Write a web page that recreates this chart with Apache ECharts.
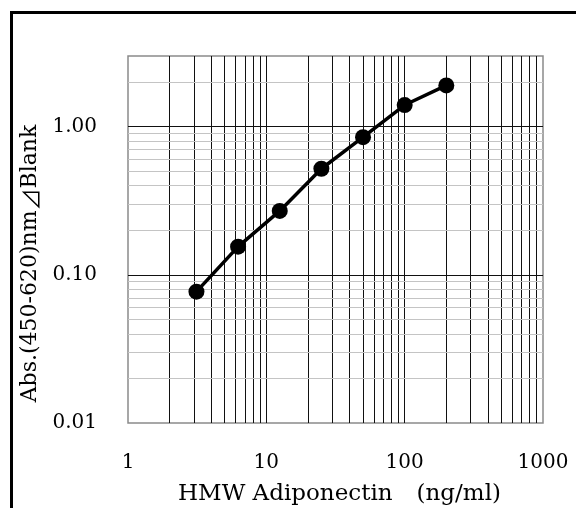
<!DOCTYPE html>
<html><head><meta charset="utf-8">
<script src="https://cdn.jsdelivr.net/npm/echarts@6/dist/echarts.min.js"></script>
<style>html,body{margin:0;padding:0;background:#fff}#c{width:576px;height:508px}</style>
</head><body><div id="c"></div>
<script>
const concentrations = [3.125, 6.25, 12.5, 25, 50, 100, 200];
const absorbance = [0.077, 0.155, 0.27, 0.52, 0.85, 1.4, 1.9];
const xGridLines = [2,3,4,5,6,7,8,9,10,20,30,40,50,60,70,80,90,100,200,300,400,500,600,700,800,900];
const yMinorGridLines = [0.02,0.03,0.04,0.05,0.06,0.07,0.08,0.09,0.2,0.3,0.4,0.5,0.6,0.7,0.8,0.9,2];
const yMajorGridLines = [0.1, 1];
const xName = '{a|HMW Adiponectin}{b|\u3000}{a|(ng/ml)}';
const yName = '{a|Abs.(450-620)nm}{b|\u22BF}{a|Blank}';

const FONT = 'DejaVu Serif';
const CJK = 'Noto Sans CJK JP';
const chart = echarts.init(document.getElementById('c'), null, {renderer: 'canvas'});
const gridData = [];
xGridLines.forEach(v => gridData.push({xAxis: v, lineStyle: {color: '#111', width: 1, type: 'solid'}}));
yMinorGridLines.forEach(v => gridData.push({yAxis: v, lineStyle: {color: '#c4c4c4', width: 1, type: 'solid'}}));
yMajorGridLines.forEach(v => gridData.push({yAxis: v, lineStyle: {color: '#111', width: 1, type: 'solid'}}));

chart.setOption({
  animation: false,
  backgroundColor: '#fff',
  graphic: [{
    type: 'rect', left: 9, top: 10, silent: true,
    shape: {width: 620, height: 560},
    style: {fill: 'none', stroke: '#000', lineWidth: 3}
  }],
  grid: {left: 128, top: 56, right: 33, bottom: 85, show: true, borderColor: '#8a8a8a', borderWidth: 1.5,
    backgroundColor: 'transparent', containLabel: false, outerBoundsMode: 'none'},
  xAxis: {
    type: 'log', logBase: 10, min: 1, max: 1000,
    name: xName, nameLocation: 'middle', nameGap: 59,
    nameTextStyle: {color: '#000', padding: [0, 0, 0, 8], rich: {
      a: {fontFamily: FONT, fontSize: 23, color: '#000'},
      b: {fontFamily: CJK, fontSize: 24, color: '#000'}
    }},
    axisLine: {show: false}, axisTick: {show: false},
    splitLine: {show: false},
    axisLabel: {fontFamily: FONT, fontSize: 20, color: '#000', margin: 30,
      formatter: v => String(Math.round(v))}
  },
  yAxis: {
    type: 'log', logBase: 10, min: 0.01, max: 3,
    name: yName, nameLocation: 'middle', nameGap: 84,
    nameTextStyle: {color: '#000', padding: [0, 48, 0, 0], rich: {
      a: {fontFamily: FONT, fontSize: 22, color: '#000'},
      b: {fontFamily: CJK, fontSize: 22, color: '#000'}
    }},
    axisLine: {show: false}, axisTick: {show: false},
    splitLine: {show: false},
    axisLabel: {fontFamily: FONT, fontSize: 20, color: '#000', margin: 31, showMaxLabel: false,
      formatter: v => Number(v).toFixed(2)}
  },
  series: [
    {
      type: 'line', data: [], z: 1, silent: true,
      markLine: {symbol: 'none', silent: true, label: {show: false}, animation: false, data: gridData}
    },
    {
      type: 'line', z: 5,
      data: concentrations.map((c, i) => [c, absorbance[i]]),
      lineStyle: {color: '#000', width: 3.5},
      itemStyle: {color: '#000'},
      symbol: 'circle', symbolSize: 16, showSymbol: true
    }
  ]
});
</script></body></html>
